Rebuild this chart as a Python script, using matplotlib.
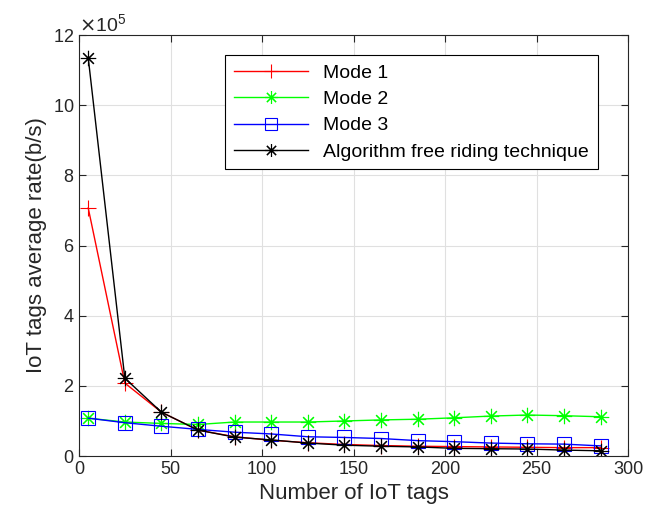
import matplotlib.pyplot as plt
from matplotlib.ticker import ScalarFormatter

plt.rcParams['font.family'] = ['Liberation Sans', 'DejaVu Sans']

tags = [5, 25, 45, 65, 85, 105, 125, 145, 165, 185, 205, 225, 245, 265, 285]
mode1 = [7.07, 2.08, 1.25, 0.74, 0.55, 0.45, 0.38, 0.33, 0.30, 0.28, 0.27, 0.26, 0.25, 0.24, 0.24]
mode2 = [1.08, 0.97, 0.93, 0.90, 0.97, 0.97, 0.97, 1.00, 1.03, 1.05, 1.09, 1.14, 1.17, 1.15, 1.12]
mode3 = [1.08, 0.95, 0.85, 0.76, 0.68, 0.63, 0.55, 0.53, 0.50, 0.44, 0.41, 0.37, 0.35, 0.34, 0.29]
free_riding = [11.35, 2.22, 1.25, 0.74, 0.54, 0.46, 0.37, 0.31, 0.28, 0.26, 0.22, 0.21, 0.20, 0.17, 0.15]

scale = 1e5
star = (8, 2, 0)  # MATLAB-style asterisk

fig = plt.figure(figsize=(6.59, 5.23), dpi=100)
ax = fig.add_axes([0.12, 0.128, 0.833, 0.805])

ax.plot(tags, [v * scale for v in mode1], color='red', marker='+', markersize=12, mew=0.8, lw=1, label='Mode 1')
ax.plot(tags, [v * scale for v in mode2], color='#00ff00', marker=star, markersize=11, mew=0.8, lw=1, label='Mode 2')
ax.plot(tags, [v * scale for v in mode3], color='blue', marker='s', markersize=10, mew=0.8, lw=1,
        markerfacecolor='none', label='Mode 3')
ax.plot(tags, [v * scale for v in free_riding], color='black', marker=star, markersize=11, mew=0.8, lw=1,
        label='Algorithm free riding technique')

ax.set_xlim(0, 300)
ax.set_ylim(0, 12e5)
ax.set_xticks(range(0, 301, 50))
ax.set_yticks([i * 2e5 for i in range(7)])
fmt = ScalarFormatter(useMathText=True)
fmt.set_powerlimits((5, 5))
ax.yaxis.set_major_formatter(fmt)
ax.yaxis.get_offset_text().set_fontsize(14)

ax.grid(True, color='#e0e0e0', lw=0.8)
ax.tick_params(direction='in', labelsize=13, top=True, right=True, length=5, colors='#262626')
for s in ax.spines.values():
    s.set_color('#262626')

ax.set_xlabel('Number of IoT tags', fontsize=16, color='#262626')
ax.set_ylabel('IoT tags average rate(b/s)', fontsize=16, color='#262626')

leg = ax.legend(loc='upper right', bbox_to_anchor=(0.945, 0.952), borderaxespad=0, fontsize=14,
                fancybox=False, edgecolor='black', framealpha=1, borderpad=0.45, labelspacing=0.45,
                handlelength=3.8, markerscale=0.85)
leg.get_frame().set_linewidth(0.8)

fig.savefig('out.png', dpi=100)
